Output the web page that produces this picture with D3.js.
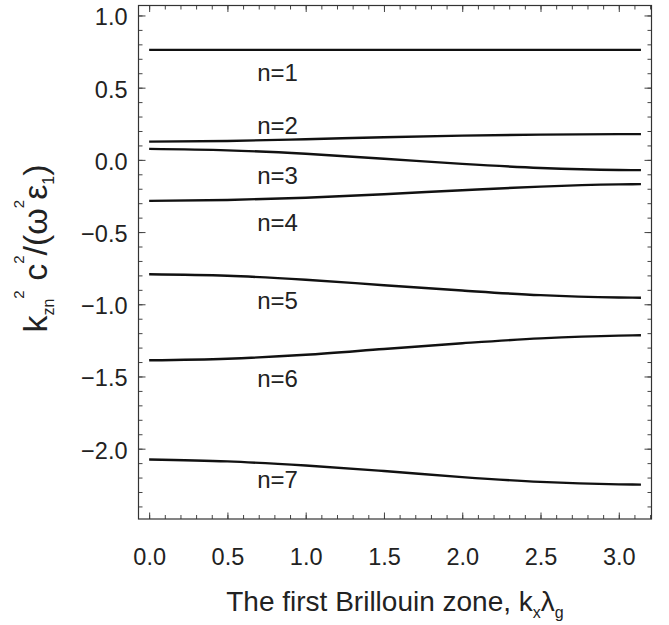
<!DOCTYPE html>
<html><head><meta charset="utf-8">
<script src="https://cdn.jsdelivr.net/npm/d3@7"></script>
<style>
body{margin:0;background:#fff}
svg{display:block}
text{font-family:"Liberation Sans",Arial,Helvetica,sans-serif;fill:#222}
</style>
</head><body>
<svg id="chart" width="669" height="625"></svg>
<script>
// ---- data ----
const kx = [0, 0.5, 1.0, 1.5, 2.0, 2.5, 3.0, Math.PI];
const n1 = [0.762, 0.762, 0.762, 0.762, 0.762, 0.762, 0.762, 0.762];
const n2 = [0.126, 0.131, 0.143, 0.157, 0.168, 0.175, 0.178, 0.178];
const n3 = [0.076, 0.066, 0.042, 0.008, -0.028, -0.056, -0.070, -0.071];
const n4 = [-0.284, -0.278, -0.262, -0.238, -0.210, -0.185, -0.170, -0.168];
const n5 = [-0.792, -0.802, -0.830, -0.868, -0.905, -0.937, -0.953, -0.955];
const n6 = [-1.388, -1.377, -1.350, -1.310, -1.270, -1.236, -1.217, -1.215];
const n7 = [-2.075, -2.088, -2.117, -2.155, -2.197, -2.230, -2.247, -2.249];
const seriesNames = ["n=1","n=2","n=3","n=4","n=5","n=6","n=7"];
const labelX = [0.82, 0.82, 0.82, 0.82, 0.82, 0.82, 0.82];
const labelY = [0.603, 0.236, -0.104, -0.430, -0.970, -1.510, -2.213];
const xTicks = [0, 0.5, 1.0, 1.5, 2.0, 2.5, 3.0];
const xTickLabels = ["0.0","0.5","1.0","1.5","2.0","2.5","3.0"];
const yTicks = [1.0, 0.5, 0.0, -0.5, -1.0, -1.5, -2.0];
const yTickLabels = ["1.0","0.5","0.0","\u22120.5","\u22121.0","\u22121.5","\u22122.0"];
const xMinor = d3.range(0, 33).map(i => i / 10).filter(v => v <= 3.2);
const yMinor = d3.range(-24, 11).map(i => i / 10);

// ---- layout ----
const L = 138.5, R = 651.5, T = 5.5, B = 519;
const svg = d3.select("#chart");
const x = d3.scaleLinear().domain([-0.068, 3.209]).range([L, R]);
const y = d3.scaleLinear().domain([-2.487, 1.069]).range([B, T]);

const tickCol = "#444";
function styleAxis(g) {
  g.select(".domain").remove();
  g.selectAll(".tick line").attr("stroke", tickCol).attr("stroke-width", 1);
  g.selectAll(".tick text").style("font-size", "23.5px").attr("fill", "#222");
}
const xFmt = d => xTickLabels[xTicks.indexOf(d)];
const yFmt = d => yTickLabels[yTicks.indexOf(d)];

// bottom
svg.append("g").attr("transform", `translate(0,${B})`)
  .call(d3.axisBottom(x).tickValues(xMinor).tickSize(-4).tickFormat(""))
  .call(styleAxis);
svg.append("g").attr("transform", `translate(0,${B})`)
  .call(d3.axisBottom(x).tickValues(xTicks).tickSize(-6.5).tickPadding(29).tickFormat(xFmt))
  .call(styleAxis);
// top
svg.append("g").attr("transform", `translate(0,${T})`)
  .call(d3.axisTop(x).tickValues(xMinor).tickSize(-4).tickFormat(""))
  .call(styleAxis);
svg.append("g").attr("transform", `translate(0,${T})`)
  .call(d3.axisTop(x).tickValues(xTicks).tickSize(-6.5).tickFormat(""))
  .call(styleAxis);
// left
svg.append("g").attr("transform", `translate(${L},0)`)
  .call(d3.axisLeft(y).tickValues(yMinor).tickSize(-4).tickFormat(""))
  .call(styleAxis);
const yl = svg.append("g").attr("transform", `translate(${L},0)`)
  .call(d3.axisLeft(y).tickValues(yTicks).tickSize(-7).tickPadding(11).tickFormat(yFmt))
  .call(styleAxis);
yl.selectAll(".tick text").attr("dy", "0.4em");
// right
svg.append("g").attr("transform", `translate(${R},0)`)
  .call(d3.axisRight(y).tickValues(yMinor).tickSize(-4).tickFormat(""))
  .call(styleAxis);
svg.append("g").attr("transform", `translate(${R},0)`)
  .call(d3.axisRight(y).tickValues(yTicks).tickSize(-7).tickFormat(""))
  .call(styleAxis);

// frame
svg.append("rect").attr("x", L).attr("y", T).attr("width", R - L).attr("height", B - T)
  .attr("fill", "none").attr("stroke", "#333").attr("stroke-width", 1.2);

// curves
const allSeries = [n1, n2, n3, n4, n5, n6, n7];
const line = d3.line().x((d, i) => x(kx[i])).y(d => y(d)).curve(d3.curveMonotoneX);
svg.append("g").selectAll("path").data(allSeries).join("path")
  .attr("d", line).attr("fill", "none").attr("stroke", "#111").attr("stroke-width", 2.4);

// curve labels
svg.append("g").selectAll("text").data(seriesNames).join("text")
  .attr("x", (d, i) => x(labelX[i])).attr("y", (d, i) => y(labelY[i]))
  .attr("dy", "0.36em").attr("text-anchor", "middle")
  .style("font-size", "24px").text(d => d);

// x label
const xl = svg.append("text").attr("x", (L + R) / 2).attr("y", 611)
  .attr("text-anchor", "middle").style("font-size", "28px");
xl.append("tspan").text("The first Brillouin zone, k");
xl.append("tspan").attr("dy", 7).style("font-size", "16px").text("x");
xl.append("tspan").attr("dy", -7).text("\u03bb");
xl.append("tspan").attr("dy", 7).style("font-size", "16px").text("g");

// y label
const ylab = svg.append("text").attr("transform", "translate(47,248.5) rotate(-90)")
  .attr("text-anchor", "middle").style("font-size", "34px");
ylab.append("tspan").text("k");
ylab.append("tspan").attr("dy", 6.5).style("font-size", "16px").text("zn");
ylab.append("tspan").attr("dy", -30).style("font-size", "15px").text("2");
ylab.append("tspan").attr("dy", 23.5).text(" c");
ylab.append("tspan").attr("dy", -23.5).style("font-size", "15px").text("2");
ylab.append("tspan").attr("dy", 23.5).text("/(\u03c9");
ylab.append("tspan").attr("dy", -23.5).style("font-size", "15px").text("2");
ylab.append("tspan").attr("dy", 23.5).text("\u03b5");
ylab.append("tspan").attr("dy", 6.5).style("font-size", "16px").text("1");
ylab.append("tspan").attr("dy", -6.5).text(")");
</script>
</body></html>
